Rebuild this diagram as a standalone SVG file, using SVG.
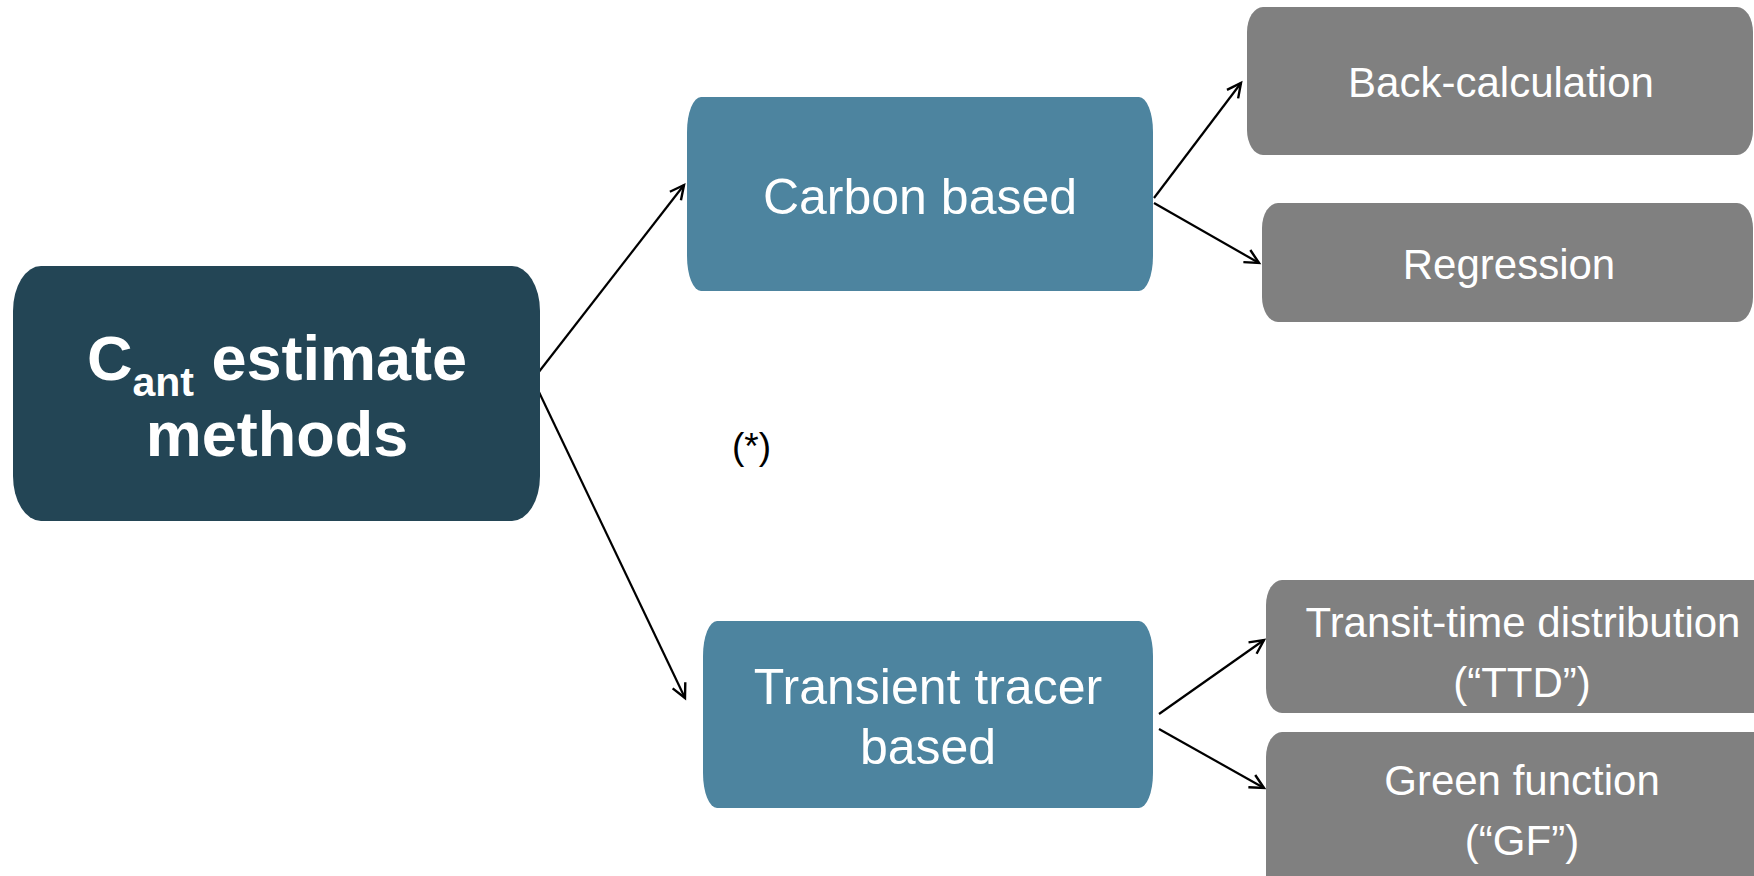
<svg xmlns="http://www.w3.org/2000/svg" width="1754" height="876" viewBox="0 0 1754 876">
<defs>
<style>
.t{font-family:"Liberation Sans",Arial,sans-serif;fill:#fff;text-anchor:middle}
.mid{font-size:50px}
.gr{font-size:42px}
.main{font-size:63px;font-weight:bold}
.dark{fill:#234555}
.blue{fill:#4d849f}
.gray{fill:#808080}
.conn{stroke:#000;stroke-width:2.2;fill:none;marker-end:url(#ah)}
</style>
<marker id="ah" markerUnits="userSpaceOnUse" markerWidth="20" markerHeight="20" refX="16" refY="8" orient="auto" viewBox="0 0 20 16">
<path d="M2,1 L16,8 L2,15" fill="none" stroke="#000" stroke-width="2.4"/>
</marker>
</defs>
<rect width="1754" height="876" fill="#fff"/>
<g id="connectors">
<line class="conn" x1="538" y1="373" x2="684" y2="185"/>
<line class="conn" x1="538" y1="390" x2="685" y2="698"/>
<line class="conn" x1="1154" y1="198" x2="1241" y2="83"/>
<line class="conn" x1="1154" y1="203" x2="1259" y2="263"/>
<line class="conn" x1="1159" y1="714" x2="1264" y2="640"/>
<line class="conn" x1="1159" y1="729" x2="1264" y2="788"/>
</g>
<g id="main">
<rect class="dark" x="13" y="266" width="527" height="255" rx="28" ry="45"/>
<text class="t main" x="277" y="380">C<tspan font-size="41" dy="16">ant</tspan><tspan dy="-16"> estimate</tspan></text>
<text class="t main" x="277" y="456">methods</text>
</g>
<g id="carbon">
<rect class="blue" x="687" y="97" width="466" height="194" rx="14" ry="35"/>
<text class="t mid" x="920" y="214">Carbon based</text>
</g>
<g id="tracer">
<rect class="blue" x="703" y="621" width="450" height="187" rx="14" ry="35"/>
<text class="t mid" x="928" y="704">Transient tracer</text>
<text class="t mid" x="928" y="764">based</text>
</g>
<g id="backcalc">
<rect class="gray" x="1247" y="7" width="506" height="148" rx="16" ry="25"/>
<text class="t gr" x="1501" y="97">Back-calculation</text>
</g>
<g id="regression">
<rect class="gray" x="1262" y="203" width="491" height="119" rx="16" ry="25"/>
<text class="t gr" x="1509" y="279">Regression</text>
</g>
<g id="ttd">
<rect class="gray" x="1266" y="580" width="520" height="133" rx="16" ry="25"/>
<text class="t gr" x="1523" y="637">Transit-time distribution</text>
<text class="t gr" x="1522" y="697">(“TTD”)</text>
</g>
<g id="gf">
<rect class="gray" x="1266" y="732" width="520" height="170" rx="16" ry="25"/>
<text class="t gr" x="1522" y="795">Green function</text>
<text class="t gr" x="1522" y="855">(“GF”)</text>
</g>
<g id="note">
<text x="732" y="459" font-family="Liberation Sans, Arial, sans-serif" font-size="37" fill="#000">(*)</text>
</g>
</svg>
